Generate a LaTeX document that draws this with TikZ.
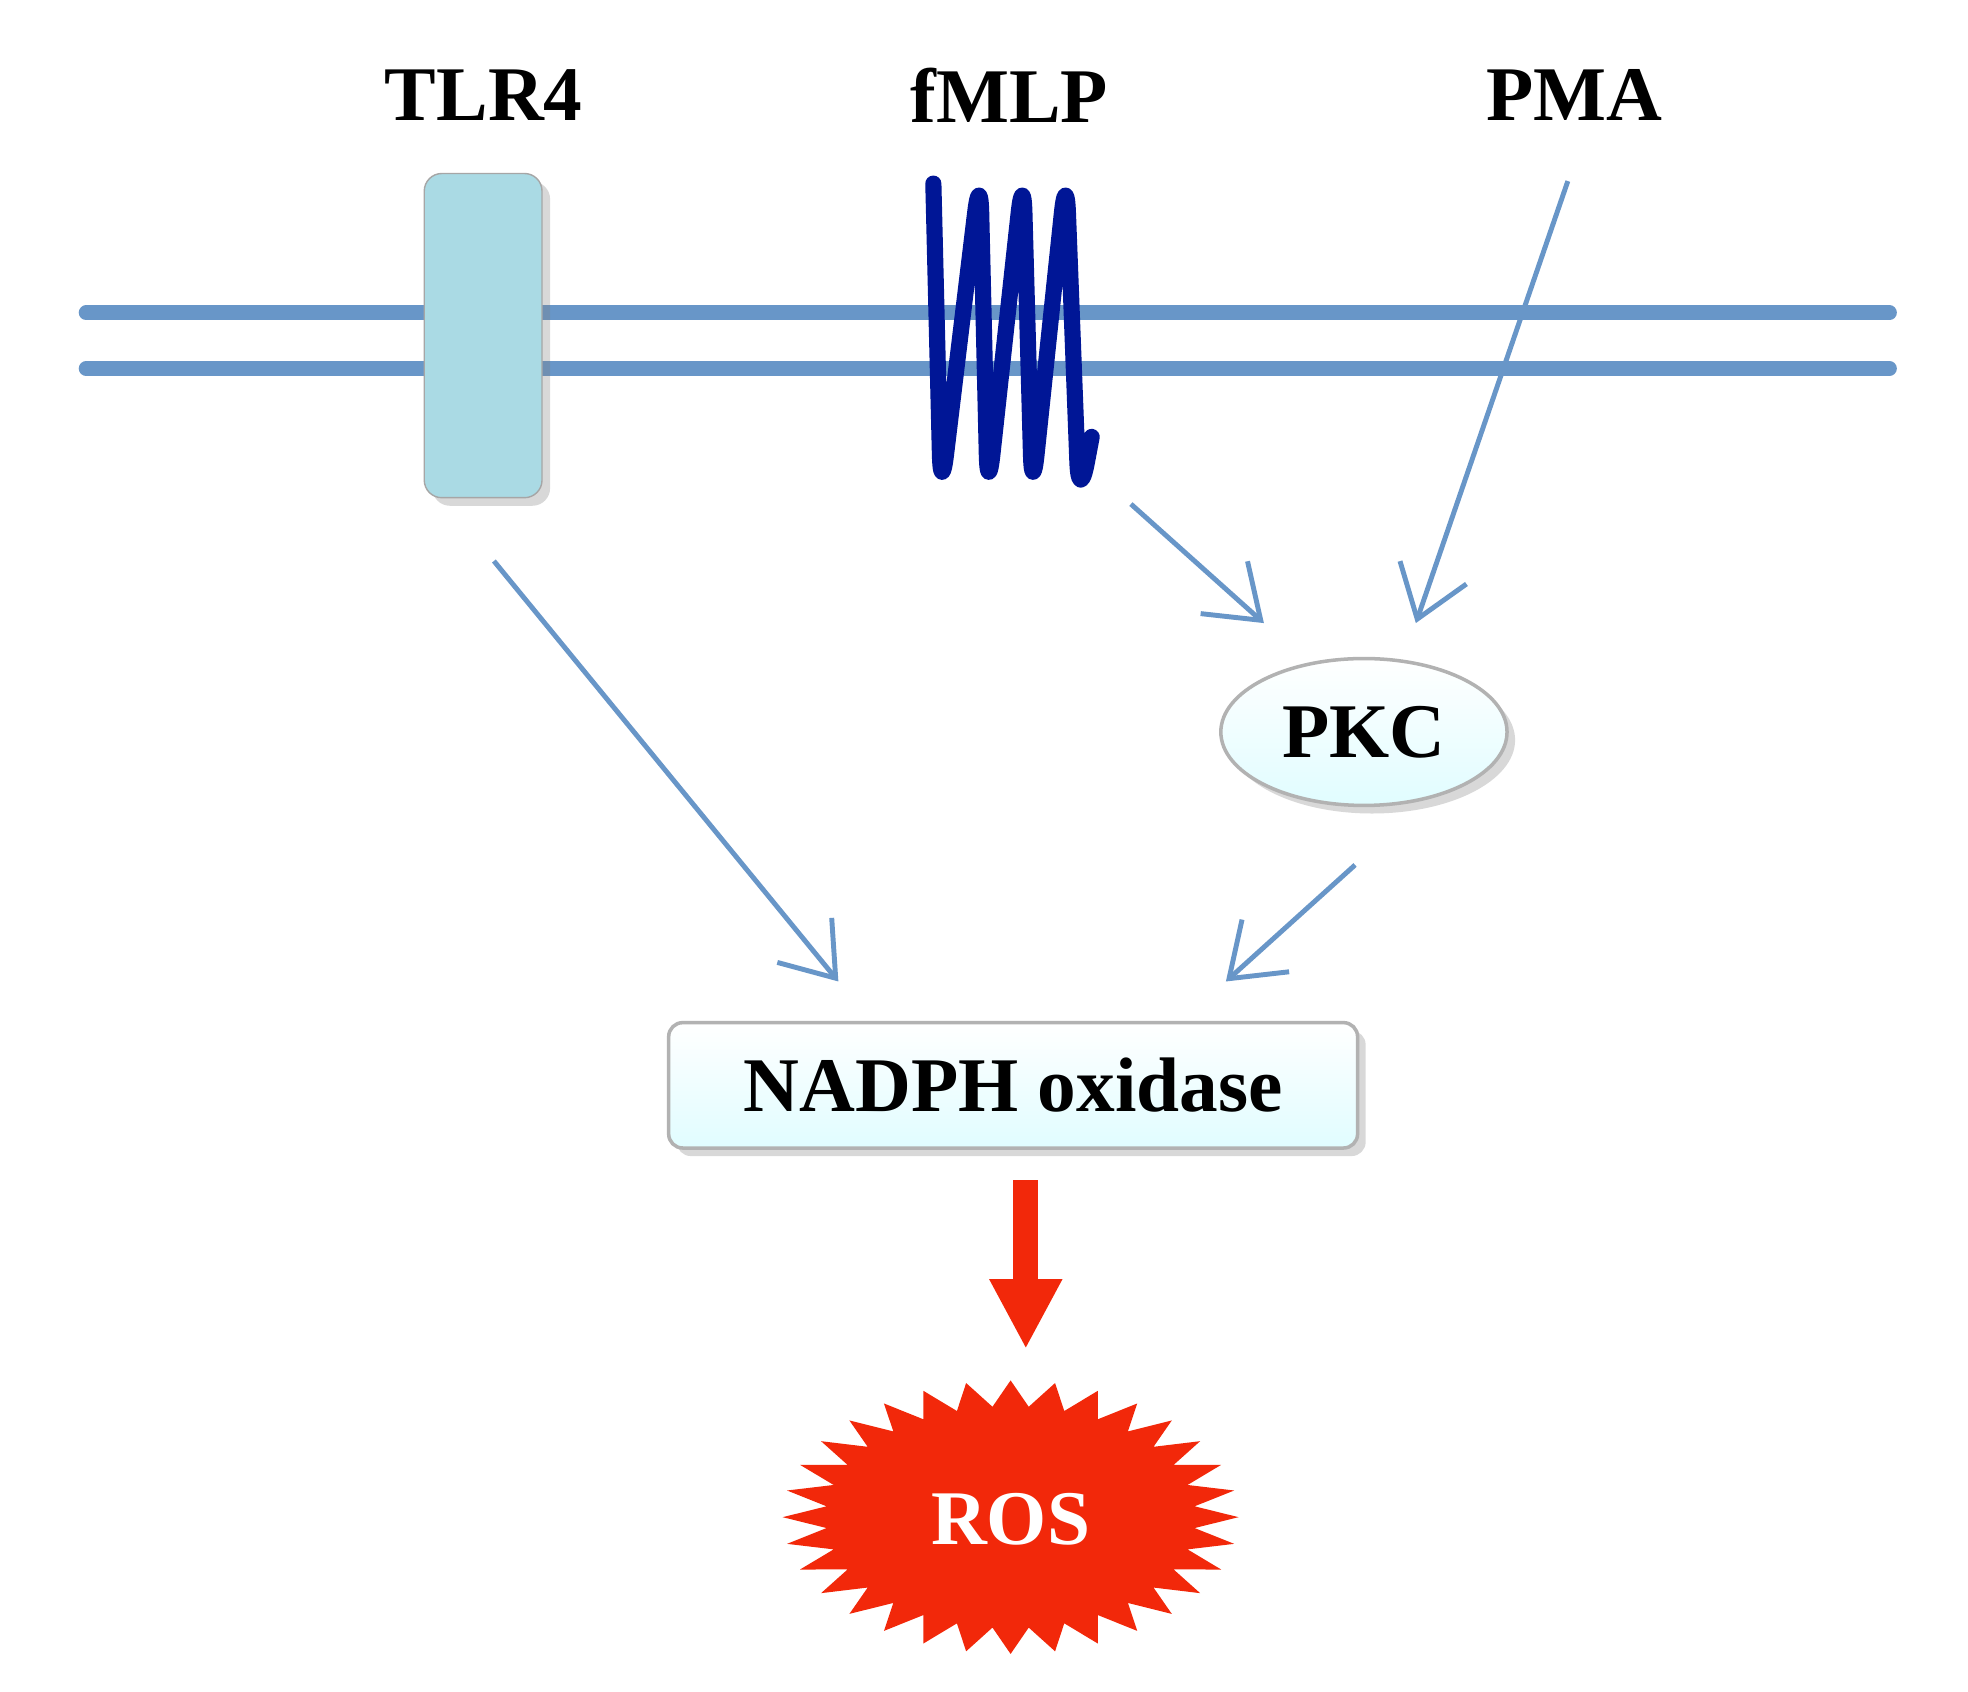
\documentclass[tikz,border=0pt]{standalone}
\usepackage{fontspec}
\setmainfont{Liberation Serif}
\usetikzlibrary{arrows.meta,shapes.geometric,shadows}
\begin{document}
\begin{tikzpicture}[x=0.012664cm,y=-0.012664cm,
  arr/.style={draw=memblue,line width=1.4pt,-{Straight Barb[length=14pt,width=20pt,line width=1.4pt]}},
  lbl/.style={font=\fontsize{22}{24}\selectfont\bfseries}]
\definecolor{memblue}{RGB}{104,150,200}
\definecolor{tlr}{RGB}{170,218,228}
\definecolor{coil}{RGB}{0,22,150}
\definecolor{rosred}{RGB}{242,40,10}
\useasboundingbox (0,0) rectangle (1554,1336);
\fill[white] (0,0) rectangle (1554,1336);
% membrane
\draw[color=memblue,line width=4.2pt,line cap=round] (68,247) -- (1492,247);
\draw[color=memblue,line width=4.2pt,line cap=round] (68,291) -- (1492,291);
% labels
\node[lbl] (tlrlbl) at (382,75) {TLR4};
\node[lbl] (fmlplbl) at (797,75) {fMLP};
\node[lbl] (pmalbl) at (1243,75) {PMA};
% TLR4
\node[draw=gray!70,fill=tlr,rounded corners=5pt,minimum width=93*0.012664cm,minimum height=256*0.012664cm,drop shadow={opacity=0.3}] (tlr4) at (381.5,265) {};
% fMLP coil
\draw[coil,line width=4.6pt,line cap=round,line join=round,rounded corners=12pt]
 (737,145) -- (743,392) -- (774,135) -- (780,392) -- (808,135) -- (815,392) -- (842,135) -- (852,398) -- (862,345);
% PKC
\node[ellipse,draw=gray!60,line width=1pt,top color=white,bottom color=blue!8!cyan!12,minimum width=226*0.012664cm,minimum height=116*0.012664cm,drop shadow={opacity=0.3},lbl] (pkc) at (1077,578) {PKC};
% NADPH
\node[draw=gray!60,line width=1pt,rounded corners=4pt,top color=white,bottom color=blue!8!cyan!12,minimum width=544*0.012664cm,minimum height=99*0.012664cm,drop shadow={opacity=0.3},lbl] (nadph) at (800,857) {NADPH oxidase};
% arrows
\coordinate (a1s) at (390,443); \coordinate (a1e) at (662,775);
\coordinate (a2s) at (893,398); \coordinate (a2e) at (998,492);
\coordinate (a3s) at (1238,143); \coordinate (a3e) at (1118,492);
\coordinate (a4s) at (1070,683); \coordinate (a4e) at (968,775);
\draw[arr] (a1s) -- (a1e);
\draw[arr] (a2s) -- (a2e);
\draw[arr] (a3s) -- (a3e);
\draw[arr] (a4s) -- (a4e);
% red arrow
\fill[rosred] (800,932) rectangle (820,1012);
\fill[rosred] (781,1010) -- (839,1010) -- (810,1064) -- cycle;
% ROS
\begin{scope}[shift={(798,1198)},yscale=0.6]
\fill[rosred] (0:180) \foreach \i in {0,...,31} { -- ({\i*11.25+5.625}:146) -- ({(\i+1)*11.25}:180) } -- cycle;
\end{scope}
\node[lbl,text=white] (ros) at (798,1200) {ROS};
\end{tikzpicture}
\end{document}
